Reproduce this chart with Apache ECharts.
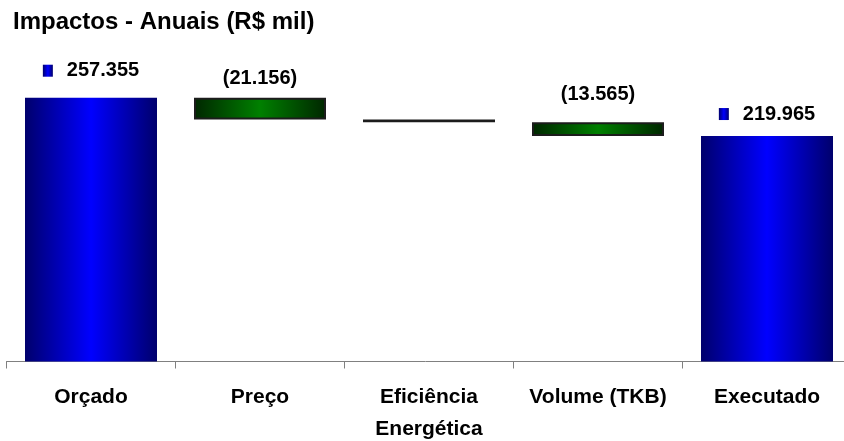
<!DOCTYPE html>
<html>
<head>
<meta charset="utf-8">
<script src="https://cdn.jsdelivr.net/npm/echarts@6/dist/echarts.min.js"></script>
<style>
  html, body { margin: 0; padding: 0; background: #fff; }
  #grafico { width: 844px; height: 441px; }
</style>
</head>
<body>
<div id="grafico"></div>
<script>
/**categorias do eixo x */
let categorias = ['Orçado', 'Preço', 'Eficiência\nEnergética', 'Volume (TKB)', 'Executado'];
/**valores (R$ mil): totais e impactos */
let valores = [257355, -21156, -2669, -13565, 219965];
/**tipo de cada barra */
let tipos = ['total', 'impacto', 'impacto', 'impacto', 'total'];
/**mostrar rotulo? */
let mostrarRotulo = [true, true, false, true, true];
/**distancia do rotulo ate a barra */
let distRotulo = [17, 9, 0, 18, 12];

let dom = document.getElementById('grafico');
let chart = echarts.init(dom, null, { renderer: 'canvas' });

/**gradientes */
let azul = new echarts.graphic.LinearGradient(0, 0, 1, 0, [
  { offset: 0, color: '#00006c' },
  { offset: 0.5, color: '#0000ff' },
  { offset: 1, color: '#00006c' }
]);
let verde = new echarts.graphic.LinearGradient(0, 0, 1, 0, [
  { offset: 0, color: '#002600' },
  { offset: 0.5, color: '#008000' },
  { offset: 1, color: '#002600' }
]);

var formata = function (v) {/**separador de milhar com ponto */
  let s = Math.abs(v).toString().replace(/\B(?=(\d{3})+(?!\d))/g, '.');
  return v < 0 ? '(' + s + ')' : s;
}

/**base invisivel e altura visivel */
let base = [];
let altura = [];
let acumulado = 0;
for (let i = 0; i < valores.length; i++) {
  if (tipos[i] === 'total') {
    acumulado = valores[i];
    base.push(0);
    altura.push(valores[i]);
  } else {
    acumulado += valores[i];
    base.push(valores[i] < 0 ? acumulado : acumulado - valores[i]);
    altura.push(Math.abs(valores[i]));
  }
}

let dadosVisiveis = altura.map((h, i) => {
  let total = tipos[i] === 'total';
  return {
    value: h,
    itemStyle: total
      ? { color: azul, borderWidth: 0 }
      : { color: verde, borderColor: '#1c1c1c', borderWidth: 2 },
    label: {
      show: mostrarRotulo[i],
      position: 'top',
      distance: distRotulo[i],
      formatter: total ? '{m|}{v|' + formata(valores[i]) + '}' : formata(valores[i]),
      fontSize: 20
    }
  }
});

let option = {
  animation: false,
  title: {
    text: 'Impactos - Anuais (R$ mil)',
    left: 8,
    top: 5,
    textStyle: {
      fontFamily: 'Liberation Sans, Arial, sans-serif',
      fontWeight: 'bold',
      fontSize: 24,
      color: '#000'
    }
  },
  grid: {
    left: 6.5,
    right: -7.5,
    top: 54,
    bottom: 79.5,
    outerBoundsMode: 'none'
  },
  xAxis: {
    type: 'category',
    data: categorias,
    axisLine: { show: true, lineStyle: { color: '#808080', width: 1 } },
    axisTick: { show: true, interval: 0, length: 7, lineStyle: { color: '#808080' } },
    axisLabel: {
      interval: 0,
      margin: 20,
      color: '#000',
      fontFamily: 'Liberation Sans, Arial, sans-serif',
      fontWeight: 'bold',
      fontSize: 21,
      lineHeight: 32
    }
  },
  yAxis: {
    type: 'value',
    show: false,
    min: 0,
    max: 300000
  },
  series: [
    {
      name: 'base',
      type: 'bar',
      stack: 'cascata',
      barWidth: 132,
      silent: true,
      itemStyle: { color: 'transparent' },
      data: base
    },
    {
      name: 'valor',
      type: 'bar',
      stack: 'cascata',
      barWidth: 132,
      label: {
        color: '#000',
        fontFamily: 'Liberation Sans, Arial, sans-serif',
        fontWeight: 'bold',
        rich: {
          m: { width: 10, height: 12, backgroundColor: azul },
          v: {
            color: '#000',
            fontFamily: 'Liberation Sans, Arial, sans-serif',
            fontWeight: 'bold',
            fontSize: 20,
            padding: [0, 0, 0, 14]
          }
        }
      },
      data: dadosVisiveis
    }
  ]
};

chart.setOption(option);
</script>
</body>
</html>
